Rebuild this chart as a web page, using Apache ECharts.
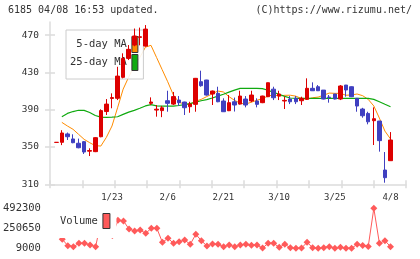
<!DOCTYPE html>
<html>
<head>
<meta charset="utf-8">
<script src="https://cdn.jsdelivr.net/npm/echarts@6/dist/echarts.min.js"></script>
<style>html,body{margin:0;padding:0;background:#fff}#c{width:420px;height:259px}</style>
</head>
<body>
<div id="c"></div>
<script>
const dates = ['1/8','1/9','1/10','1/14','1/15','1/16','1/17','1/20','1/21','1/22',
  '1/23','1/24','1/27','1/28','1/29','1/30','1/31','2/3','2/4','2/5',
  '2/6','2/7','2/10','2/12','2/13','2/14','2/17','2/18','2/19','2/20',
  '2/21','2/25','2/26','2/27','2/28','3/3','3/4','3/5','3/6','3/7',
  '3/10','3/11','3/12','3/13','3/14','3/17','3/18','3/19','3/21','3/24',
  '3/25','3/26','3/27','3/28','3/31','4/1','4/2','4/3','4/4','4/7','4/8'];
const opens = [354.9,355,364,358.6,354,355.7,345.5,345,361,388,
  402,402.2,424.7,445,459.3,467.5,458.2,396.8,389.6,389,
  399.6,396,400.3,398.2,393.2,395.7,420,421.8,406.8,407.5,
  399.3,388.9,398.5,396,401.4,399.3,399.3,397.5,403.9,412,
  404.6,399.3,401.4,402.2,399.6,401.1,412.9,414.6,411,403.5,
  406.8,401.4,416.4,414.6,402.2,390.7,386,378.2,377.8,325.3,335.3];
const closes = [355,365,361,354.6,349.2,344.6,346.2,360,389,396,
  403,426,445,454.7,469,468.2,476.4,398.2,390.5,392,
  396.8,404,397.5,392.1,396.1,423.6,415.7,405.7,410,398.5,
  387.8,397.5,395,404.6,395,405.7,395.7,404.6,418.9,402.8,
  406.8,400,398.5,398.5,402.2,412.9,410.3,410.3,401.4,403,
  401.4,415.4,411.1,403.9,393.9,383.5,377,380.3,356.8,317.1,357.5];
const lows = [354.9,352,357.5,354,348.6,342.5,340.3,344.5,360.4,384.3,
  391.5,400.3,423.6,443.2,458,459,457.5,395,382.5,382,
  387.8,395,394,384.3,386.7,387.8,414.6,405,395,398,
  387.5,388.5,388,395.5,392.5,398,392.5,397,403.5,400.3,
  400.3,390.7,396,396,395,400.5,410,410,401,397.5,
  401,400.3,403.9,403.5,387.8,381.4,374.3,352.1,345,311.7,335];
const highs = [355,368,365.5,363.6,359,356.4,348.6,360.5,390.4,401.4,
  407.5,436,450.4,459.3,477,478,480.7,403.2,395,394,
  410.3,409,404.6,398.5,398.5,424,431.8,422,410.5,414.6,
  402.2,405.7,403,410.3,404.6,410.3,402.2,405,419,414.6,
  410.3,404,404.6,404.6,403.9,423.6,419.3,416.4,411.1,405.7,
  407,416.4,416.5,415,402.5,392,387.8,392.5,378,344.6,366];
const ma5 = ['-',376.4,372.5,369,363.6,358.2,354.6,351.4,351,360.4,
  372.5,392,412,425,437,446,457,459,446,433,
  420,406,398,396,396,399,401,404,407,410,
  409,404,400,397,396,398,400,402,404.5,406,
  404.6,405.4,405.5,404.5,402,401.1,402.8,403.5,405.5,407.8,
  407.5,407.5,405.5,405.8,406.8,405,401,394,381,367,358.6];
const ma25 = ['-',382.5,386,388,389.4,389.2,387,383.8,382,381.8,
  382,382.4,385,387.4,389.2,391.5,394,395.5,394,393.9,
  393.9,393.9,394.5,395.5,396.5,398,399.6,400.8,402.5,404.5,
  406.5,408.8,411,412.9,412.9,412.9,412.9,412.5,410.8,408.5,
  406.5,404.2,402.5,402.2,402.2,402.2,402.2,402.2,402.2,402.2,
  402.2,402.2,402.2,402.2,402.2,402.2,402.2,401,398.5,395.8,393.2];
const volumes = ['-',118000,40400,28300,69400,69400,48900,28300,350000,260000,
  165000,347000,339000,242000,218000,230000,190000,251000,251000,81500,
  130000,69400,88700,109000,57300,178000,101000,36800,60900,57300,
  28300,48900,28300,48900,57300,45200,48900,12000,69400,69400,
  21000,57300,16300,10000,12000,81500,16300,9000,16300,28300,
  9500,21000,9800,9800,57300,44000,32000,492300,69400,101000,28300];
const priceTicks = [310,350,390,430,470];
const volTicks = [9000,250650,492300];
const labelEvery = 10;

const MONO = 'DejaVu Sans Mono';
const candleData = dates.map((d, i) => [opens[i], closes[i], lows[i], highs[i]]);
const axisGray = '#dcdcdc';

const chart = echarts.init(document.getElementById('c'));
chart.setOption({
  animation: false,
  backgroundColor: '#fff',
  title: [
    {text: '6185 04/08 16:53 updated.', left: 8, top: 5, padding: 0,
     textStyle: {fontSize: 10, fontWeight: 'normal', fontFamily: MONO, color: '#333'}},
    {text: '(C)https://www.rizumu.net/', right: 8, top: 5, padding: 0,
     textStyle: {fontSize: 10, fontWeight: 'normal', fontFamily: MONO, color: '#333'}}
  ],
  legend: [
    {data: [{name: '5-day MA', icon: 'rect', itemStyle: {color: '#ff8c00', borderColor: '#333', borderWidth: 1}},
            {name: '25-day MA', icon: 'rect', itemStyle: {color: '#10aa10', borderColor: '#333', borderWidth: 1}}],
     orient: 'vertical', align: 'right', left: 66, top: 30, padding: [6, 5, 8, 4],
     itemWidth: 6, itemHeight: 16, itemGap: 1, selectedMode: false, z: 2,
     backgroundColor: 'rgba(255,255,255,0.9)', borderColor: '#ccc', borderWidth: 1,
     textStyle: {fontSize: 10.5, fontFamily: MONO, color: '#333'}},
    {data: [{name: 'Volume', icon: 'rect', itemStyle: {color: '#ff5a5a', borderColor: '#333', borderWidth: 1}}],
     orient: 'vertical', align: 'right', left: 57, top: 208, padding: [5, 6, 9, 3],
     itemWidth: 7, itemHeight: 15, selectedMode: false, z: 2,
     backgroundColor: '#fff', borderWidth: 0,
     textStyle: {fontSize: 10.5, fontFamily: MONO, color: '#333'}}
  ],
  grid: [
    {left: 50, right: 14, top: 22, bottom: 74.7},
    {left: 53.5, right: 26.7, top: 22, bottom: 74.7},
    {left: 53.5, right: 26.7, top: 208.3, bottom: 10.7}
  ],
  xAxis: [
    {type: 'value', gridIndex: 0, position: 'bottom', min: 0, max: 11, interval: 1,
     axisLine: {show: true, lineStyle: {color: axisGray, width: 1.5}},
     axisTick: {show: true, length: 4, lineStyle: {color: axisGray, width: 1.5}},
     axisLabel: {show: false}, splitLine: {show: false}},
    {type: 'value', gridIndex: 0, position: 'bottom', min: 0, max: 11, interval: 1,
     axisLine: {show: false},
     axisTick: {show: true, inside: true, length: 4, lineStyle: {color: axisGray, width: 1.5}},
     axisLabel: {show: false}, splitLine: {show: false}},
    {type: 'category', gridIndex: 1, data: dates, boundaryGap: true,
     axisLine: {show: false}, axisTick: {show: false}, splitLine: {show: false},
     axisLabel: {interval: (i) => i > 0 && i % labelEvery === 0, margin: 9,
       fontSize: 9, fontFamily: MONO, color: '#333'}},
    {type: 'category', gridIndex: 2, data: dates, boundaryGap: true, show: false}
  ],
  yAxis: [
    {type: 'value', gridIndex: 0, min: 310, max: 484, position: 'left',
     axisLine: {show: true, lineStyle: {color: axisGray, width: 1.5}},
     axisTick: {show: true, length: 5, customValues: priceTicks, lineStyle: {color: axisGray, width: 1.5}},
     axisLabel: {customValues: priceTicks, margin: 11, fontSize: 9.5, fontFamily: MONO, color: '#333'},
     splitLine: {show: false}},
    {type: 'value', gridIndex: 0, min: 310, max: 484, position: 'left',
     axisLine: {show: false},
     axisTick: {show: true, inside: true, length: 5, customValues: priceTicks, lineStyle: {color: axisGray, width: 1.5}},
     axisLabel: {show: false}, splitLine: {show: false}},
    {type: 'value', gridIndex: 1, min: 310, max: 484, show: false, splitLine: {show: false}},
    {type: 'value', gridIndex: 2, min: 9000, max: 492300,
     axisLine: {show: false}, axisTick: {show: false}, splitLine: {show: false},
     axisLabel: {customValues: volTicks, margin: 13, fontSize: 10.5, fontFamily: MONO, color: '#333',
       formatter: (v) => String(v)}}
  ],
  series: [
    {name: '5-day MA', type: 'line', xAxisIndex: 2, yAxisIndex: 2, data: ma5, z: 1,
     showSymbol: false, symbol: 'none', lineStyle: {color: '#ff8c00', width: 1}, itemStyle: {color: '#ff8c00'}},
    {name: '25-day MA', type: 'line', xAxisIndex: 2, yAxisIndex: 2, data: ma25, z: 1,
     showSymbol: false, symbol: 'none', lineStyle: {color: '#10aa10', width: 1.2}, itemStyle: {color: '#10aa10'}},
    {name: 'price', type: 'candlestick', xAxisIndex: 2, yAxisIndex: 2, data: candleData, z: 3,
     barWidth: 4,
     itemStyle: {color: '#dd0000', color0: '#4040c0', borderColor: '#dd0000', borderColor0: '#4040c0', borderWidth: 1}},
    {name: 'Volume', type: 'line', xAxisIndex: 3, yAxisIndex: 3, data: volumes, z: 1,
     symbol: 'diamond', symbolSize: 7, showSymbol: true, showAllSymbol: true,
     lineStyle: {color: '#ff5a5a', width: 1}, itemStyle: {color: '#ff5a5a'}}
  ]
});
</script>
</body>
</html>
